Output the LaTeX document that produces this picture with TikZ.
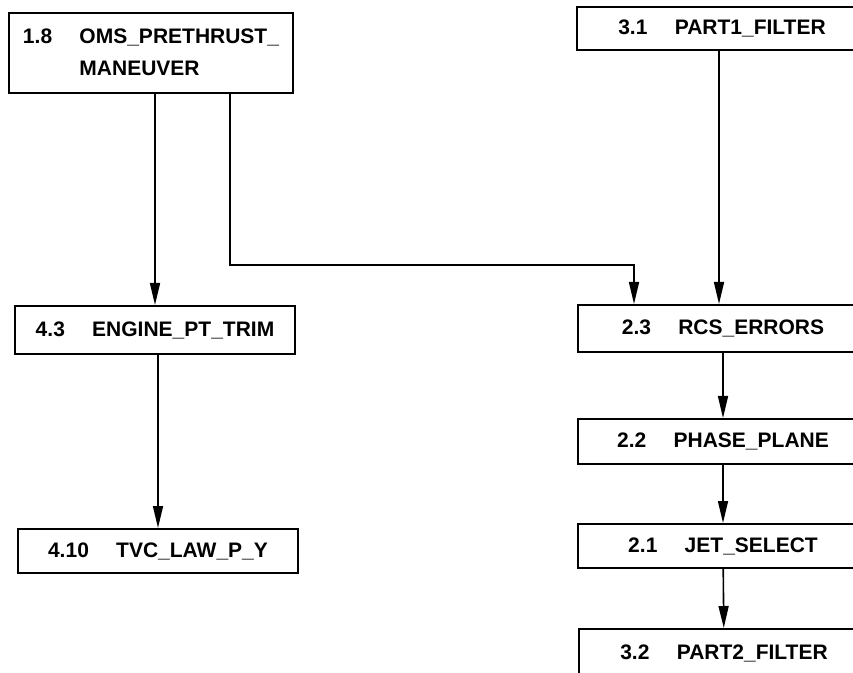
\documentclass[tikz,border=0pt]{standalone}
\usepackage{fontspec}
\setmainfont{Liberation Sans}
\usetikzlibrary{positioning, arrows.meta, calc}

\begin{document}
\begin{tikzpicture}[x=1pt, y=1pt,
    procbox/.style={draw, line width=2pt, anchor=north west, align=center,
                    inner sep=0pt, minimum width=290pt,
                    font=\fontsize{21}{32}\selectfont\bfseries},
    flow/.style={line width=1.6pt, -{Triangle[length=22pt, width=10pt]}}]
  \clip (0,0) rectangle (853,672);

  \node[procbox, minimum width=284pt, minimum height=80pt] (oms) at (8,660)
    {\begin{tabular}{@{}l@{\hspace{1.3em}}l@{}}1.8 & OMS\_PRETHRUST\_\\ & MANEUVER\end{tabular}};
  \node[procbox, minimum width=280pt, minimum height=48pt] (trim) at (14,367)
    {4.3\hspace{1.3em}ENGINE\_PT\_TRIM};
  \node[procbox, minimum width=280pt, minimum height=44pt] (tvc) at (17,144)
    {4.10\hspace{1.3em}TVC\_LAW\_P\_Y};

  \node[procbox, minimum height=43pt] (part1) at (576,666) {3.1\hspace{1.3em}PART1\_FILTER};
  \node[procbox, minimum height=47pt] (rcs) at (577,368) {2.3\hspace{1.3em}RCS\_ERRORS};
  \node[procbox, minimum height=45pt] (phase) at (577,254) {2.2\hspace{1.3em}PHASE\_PLANE};
  \node[procbox, minimum height=44pt] (jet) at (577,149) {2.1\hspace{1.3em}JET\_SELECT};
  \node[procbox, minimum height=48pt] (part2) at (578,44) {3.2\hspace{1.3em}PART2\_FILTER};

  \coordinate (bend) at (230,407);

  \draw[flow] (trim.north |- oms.south) -- (trim.north);
  \draw[flow] (oms.south -| bend) -- (bend) -| ([xshift=-89pt]rcs.north);
  \draw[flow] ([xshift=-4pt]rcs.north |- part1.south) -- ([xshift=-4pt]rcs.north);
  \draw[flow] (tvc.north |- trim.south) -- (tvc.north);
  \draw[flow] (rcs) -- (phase);
  \draw[flow] (phase) -- (jet);
  \draw[flow] (jet) -- (part2);
\end{tikzpicture}
\end{document}
